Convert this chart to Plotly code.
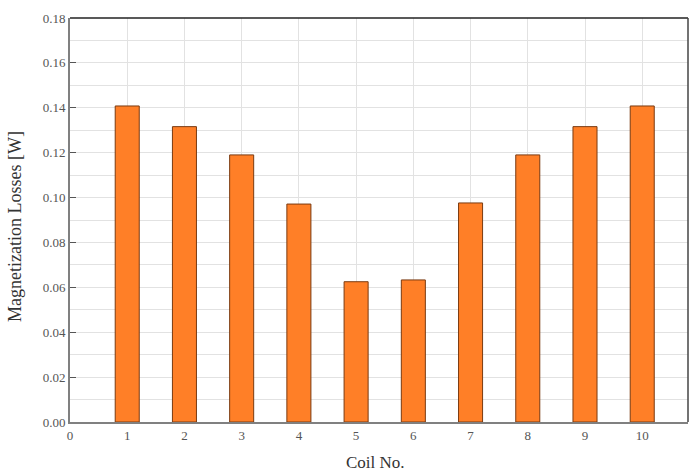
import plotly.graph_objects as go

coils = [1, 2, 3, 4, 5, 6, 7, 8, 9, 10]
losses = [0.1408, 0.1316, 0.1190, 0.0971, 0.0625, 0.0633, 0.0976, 0.1190, 0.1316, 0.1408]
x_ticks = list(range(0, 11))
y_ticks = [0.00, 0.02, 0.04, 0.06, 0.08, 0.10, 0.12, 0.14, 0.16, 0.18]

fig = go.Figure()
fig.add_trace(go.Bar(
    x=coils, y=losses, width=0.42,
    marker=dict(color="#FF7F27", line=dict(color="#7a3a10", width=1)),
))

serif = "Liberation Serif, Times New Roman, serif"
fig.update_layout(
    width=689, height=472,
    margin=dict(l=70, r=1, t=18, b=50),
    plot_bgcolor="white", paper_bgcolor="white",
    showlegend=False,
    font=dict(family=serif, color="#444444"),
    xaxis=dict(
        range=[0, 10.8], tickvals=x_ticks, ticktext=[str(v) for v in x_ticks],
        showgrid=True, gridcolor="#e2e2e2", gridwidth=1,
        showline=True, linecolor="#808080", linewidth=2,
        ticks="", ticklen=0, tickfont=dict(size=13, color="#555555"),
        zeroline=False,
    ),
    yaxis=dict(
        range=[0, 0.18], tickvals=y_ticks, ticktext=[f"{v:.2f}" for v in y_ticks],
        showgrid=True, gridcolor="#e2e2e2", gridwidth=1,
        minor=dict(dtick=0.01, showgrid=True, gridcolor="#e2e2e2", gridwidth=1),
        showline=True, linecolor="#808080", linewidth=2,
        ticks="inside", ticklen=6, tickcolor="#555555", tickwidth=1,
        tickfont=dict(size=13, color="#555555"),
        zeroline=False,
    ),
    annotations=[
        dict(text="Magnetization Losses [W]", xref="paper", yref="paper",
             x=-70/618, y=(422-227)/404, xanchor="left", yanchor="middle",
             xshift=3, textangle=-90, showarrow=False,
             font=dict(family=serif, size=18, color="#333333")),
        dict(text="Coil No.", xref="paper", yref="paper",
             x=(375-70)/618, y=0, xanchor="center", yanchor="top",
             yshift=-29, showarrow=False,
             font=dict(family=serif, size=17, color="#333333")),
    ],
    shapes=[
        dict(type="line", xref="paper", yref="paper", x0=0, x1=1, y0=1, y1=1,
             line=dict(color="#222222", width=1.5)),
        dict(type="line", xref="paper", yref="paper", x0=1, x1=1, y0=0, y1=1,
             line=dict(color="#444444", width=1.5)),
    ],
)
fig.write_html("out.html")
